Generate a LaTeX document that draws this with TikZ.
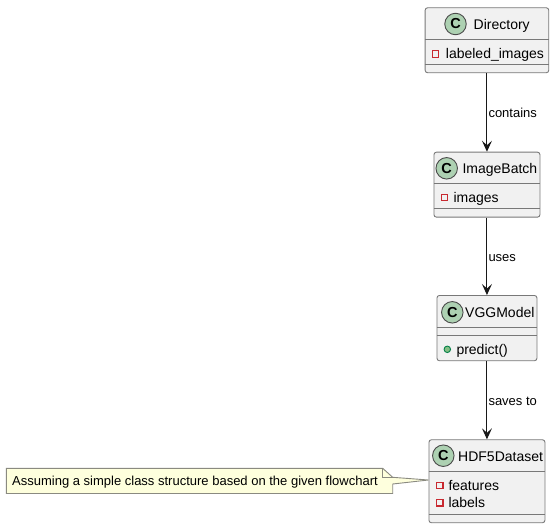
\documentclass[tikz,border=0pt]{standalone}
\usepackage{fontspec}
\setmainfont{Liberation Sans}
\usetikzlibrary{arrows.meta}
\definecolor{boxfill}{HTML}{F1F1F1}
\definecolor{boxline}{HTML}{787878}
\definecolor{arrowline}{HTML}{181818}
\definecolor{circline}{HTML}{4A4A4A}
\definecolor{circfill}{HTML}{ADD1B2}
\definecolor{notefill}{HTML}{FEFFDD}
\definecolor{noteline}{HTML}{8A8A80}
\definecolor{privred}{HTML}{C82930}
\definecolor{pubgreen}{HTML}{84BE84}
\definecolor{publine}{HTML}{038048}
\tikzset{
  x=1pt,y=-1pt,
  classbox/.style={draw=boxline,fill=boxfill,line width=0.9pt,rounded corners=2.5pt,inner sep=0pt,minimum height=#1,anchor=north west},
  sepline/.style={draw=boxline,line width=0.9pt},
  circ/.style={circle,draw=circline,fill=circfill,line width=0.9pt,minimum size=21.5pt,inner sep=0pt,font=\fontsize{14.5}{14.5}\selectfont\bfseries},
  title/.style={font=\fontsize{14}{14}\selectfont,inner sep=0pt,anchor=base west,text=black},
  member/.style={font=\fontsize{14}{14}\selectfont,inner sep=0pt,anchor=base west,text=black},
  rel/.style={font=\fontsize{13}{13}\selectfont,inner sep=0pt,anchor=base west,text=black},
  priv/.style={draw=privred,line width=1.1pt,fill=none,minimum size=6.5pt,inner sep=0pt},
  pub/.style={circle,draw=publine,fill=pubgreen,line width=0.9pt,minimum size=6.5pt,inner sep=0pt},
  conn/.style={draw=arrowline,line width=1pt,-{Stealth[length=11pt,width=10pt,inset=4.5pt]}},
  notebody/.style={draw=noteline,fill=notefill,line width=0.9pt,line join=miter}
}
\begin{document}
\begin{tikzpicture}
\useasboundingbox (0,0) rectangle (554,528);
% Directory
\node[classbox=65pt,minimum width=123.6pt] (dir) at (424.7,7.3) {};
\draw[sepline] (dir.north west |- 0,39.3) -- (dir.north east |- 0,39.3);
\draw[sepline] (dir.north west |- 0,64.3) -- (dir.north east |- 0,64.3);
\node[circ] (dirc) at (455.5,24) {C};
\node[title] (dirt) at (473.5,29.3) {Directory};
\node[priv] (dirp) at (435.3,54) {};
\node[member] (dirm) at (445.7,58.5) {labeled\_images};
% ImageBatch
\node[classbox=65pt,minimum width=106pt] (img) at (433.5,151.7) {};
\draw[sepline] (img.north west |- 0,183.3) -- (img.north east |- 0,183.3);
\draw[sepline] (img.north west |- 0,208.3) -- (img.north east |- 0,208.3);
\node[circ] (imgc) at (446.7,168.3) {C};
\node[title] (imgt) at (462.3,173.3) {ImageBatch};
\node[priv] (imgp) at (444.3,197.3) {};
\node[member] (imgm) at (453.3,202) {images};
% VGGModel
\node[classbox=65.3pt,minimum width=100pt] (vgg) at (436.5,295) {};
\draw[sepline] (vgg.north west |- 0,327.3) -- (vgg.north east |- 0,327.3);
\draw[sepline] (vgg.north west |- 0,335) -- (vgg.north east |- 0,335);
\node[circ] (vggc) at (452.3,312.3) {C};
\node[title] (vggt) at (465,317) {VGGModel};
\node[pub] (vggp) at (447.3,349.3) {};
\node[member] (vggm) at (456.3,354) {predict()};
% HDF5Dataset
\node[classbox=83pt,minimum width=116pt] (hdf) at (428.5,439.3) {};
\draw[sepline] (hdf.north west |- 0,471.7) -- (hdf.north east |- 0,471.7);
\draw[sepline] (hdf.north west |- 0,514.3) -- (hdf.north east |- 0,514.3);
\node[circ] (hdfc) at (443.3,455.7) {C};
\node[title] (hdft) at (458,461) {HDF5Dataset};
\node[priv] (hdfp) at (439.7,485.3) {};
\node[member] (hdfm) at (448.3,490) {features};
\node[priv] (hdfq) at (439.7,502.7) {};
\node[member] (hdfn) at (448.3,507) {labels};
% Connectors
\draw[conn] (dir.south) -- (img.north);
\node[rel] (l1) at (488.3,117) {contains};
\draw[conn] (img.south) -- (vgg.north);
\node[rel] (l2) at (488.3,261) {uses};
\draw[conn] (vgg.south) -- (hdf.north);
\node[rel] (l3) at (488.3,405) {saves to};
% Note
\coordinate (tip) at (hdf.west |- 0,480);
\path[notebody] (6.3,468.3) -- (382.7,468.3) -- (392.7,477.3) -- (tip) -- (392.7,484) -- (392.7,493.5) -- (6.3,493.5) -- cycle;
\draw[notebody,fill=none] (382.7,468.3) -- (382.7,477.3) -- (392.7,477.3);
\node[font=\fontsize{13}{13}\selectfont,inner sep=0pt,anchor=base west,text=black] (note) at (12,485.5) {Assuming a simple class structure based on the given flowchart};
\end{tikzpicture}
\end{document}
